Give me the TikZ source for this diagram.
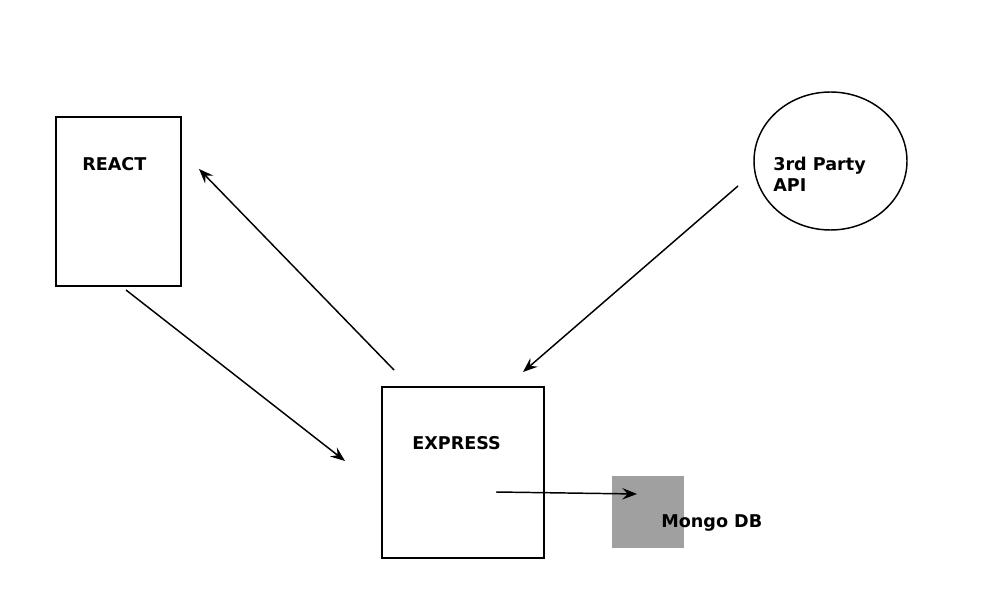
\documentclass[tikz,border=0pt]{standalone}
\usepackage{fontspec}
\setmainfont{DejaVu Sans}
\usetikzlibrary{arrows.meta,shapes.geometric}
\tikzset{
  box/.style={draw,line width=1.1pt,minimum width=#1},
  lbl/.style={font=\fontsize{13.2}{15.75}\selectfont\bfseries,inner sep=0pt,anchor=west,align=left},
  link/.style={line width=1.1pt,-{Stealth[length=11pt,width=8.5pt,inset=4pt]}}
}
\begin{document}
\begin{tikzpicture}[x=0.75pt,y=-0.75pt]
\useasboundingbox (0,0) rectangle (997,602);
% blocks
\node[box=93.75pt,minimum height=126.75pt,inner sep=0pt] (react) at (118.5,201.5) {};
\node[box=121.5pt,minimum height=128.25pt,inner sep=0pt] (express) at (463,472.5) {};
\node[draw,ellipse,line width=1.1pt,minimum width=114.75pt,minimum height=103.5pt,inner sep=0pt] (api) at (830.5,161) {};
\node[fill={rgb,255:red,160;green,160;blue,160},minimum width=54pt,minimum height=54pt,inner sep=0pt] (mongo) at (648,512) {};
% labels
\node[lbl] (reactlbl) at (82,164) {REACT};
\node[lbl] (expresslbl) at (412,443) {EXPRESS};
\node[lbl] (apilbl) at (773,174) {3rd Party\\API};
\node[lbl] (mongolbl) at (661,523) {Mongo DB};
% arrow ends
\coordinate (a1) at (394,370); \coordinate (b1) at (199,169);
\coordinate (a2) at (126,290); \coordinate (b2) at (345,461);
\coordinate (a3) at (738,186); \coordinate (b3) at (523,372);
\coordinate (a4) at (496,492); \coordinate (b4) at (637,494);
\draw[link] (a1) -- (b1);
\draw[link] (a2) -- (b2);
\draw[link] (a3) -- (b3);
\draw[link] (a4) -- (b4);
\end{tikzpicture}
\end{document}
